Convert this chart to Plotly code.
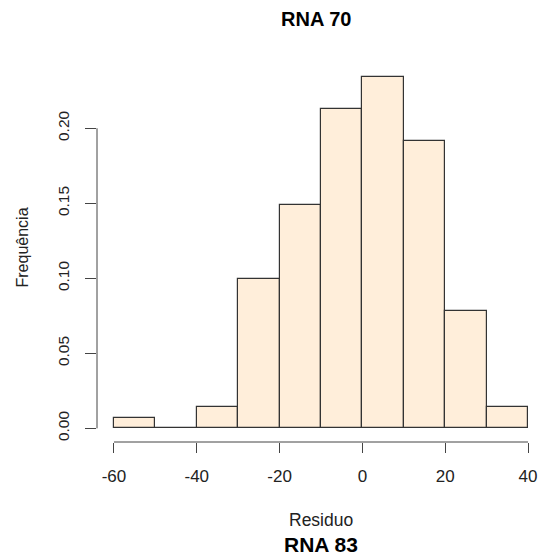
import plotly.graph_objects as go

# Data (relative frequency of residuals per 10-unit bin)
bin_edges = [-60, -50, -40, -30, -20, -10, 0, 10, 20, 30, 40]
proportions = [0.0071, 0.0, 0.0142, 0.0993, 0.1489, 0.2128, 0.2340, 0.1915, 0.0780, 0.0142]
x_ticks = [-60, -40, -20, 0, 20, 40]
x_tick_labels = ["-60", "-40", "-20", "0", "20", "40"]
y_ticks = [0.0, 0.05, 0.10, 0.15, 0.20]
y_tick_labels = ["0.00", "0.05", "0.10", "0.15", "0.20"]

centers = [(a + b) / 2 for a, b in zip(bin_edges[:-1], bin_edges[1:])]
widths = [b - a for a, b in zip(bin_edges[:-1], bin_edges[1:])]

FONT = "Liberation Sans, Arial, sans-serif"
AXC = "#444444"

fig = go.Figure()
fig.add_trace(go.Bar(
    x=centers, y=proportions, width=widths,
    marker=dict(color="#FFEEDA", line=dict(color="#333333", width=1.2)),
    hoverinfo="x+y",
))

fig.update_layout(
    width=542, height=559,
    margin=dict(l=97, r=0, t=63, b=117),
    plot_bgcolor="white", paper_bgcolor="white",
    showlegend=False,
    bargap=0,
    font=dict(family=FONT, color="#222222"),
    xaxis=dict(
        range=[-64.1, 43.38], showgrid=False, zeroline=False, showline=False,
        tickmode="array", tickvals=x_ticks, ticktext=x_tick_labels,
        ticks="outside", ticklen=10, tickcolor=AXC, tickwidth=1,
        tickfont=dict(size=17, family=FONT, color="#222222"),
        ticklabelstandoff=9, automargin=False,
    ),
    yaxis=dict(
        range=[-0.0091, 0.2435], showgrid=False, zeroline=False, showline=False,
        tickmode="array", tickvals=y_ticks, ticktext=y_tick_labels,
        ticks="outside", ticklen=11, tickcolor=AXC, tickwidth=1,
        tickangle=-90,
        tickfont=dict(size=15.5, family=FONT, color="#222222"),
        ticklabelstandoff=10, automargin=False,
    ),
    shapes=[
        dict(type="line", xref="x", yref="paper", x0=bin_edges[0], x1=bin_edges[-1], y0=0, y1=0,
             line=dict(color=AXC, width=1)),
        dict(type="line", xref="paper", yref="y", x0=0, x1=0, y0=y_ticks[0], y1=y_ticks[-1],
             line=dict(color=AXC, width=1)),
    ],
    annotations=[
        dict(text="<b>RNA 70</b>", xref="paper", yref="paper", x=(316 - 97) / 445, y=(442 - 19) / 379,
             xanchor="center", yanchor="middle", showarrow=False,
             font=dict(size=20, family=FONT, color="#000000")),
        dict(text="Residuo", xref="paper", yref="paper", x=(320.5 - 97) / 445, y=(442 - 520) / 379,
             xanchor="center", yanchor="middle", showarrow=False,
             font=dict(size=17.5, family=FONT, color="#222222")),
        dict(text="<b>RNA 83</b>", xref="paper", yref="paper", x=(321 - 97) / 445, y=(442 - 544) / 379,
             xanchor="center", yanchor="middle", showarrow=False,
             font=dict(size=21, family=FONT, color="#000000")),
        dict(text="Frequência", xref="paper", yref="paper", x=(22 - 97) / 445, y=(442 - 247.5) / 379,
             xanchor="center", yanchor="middle", showarrow=False, textangle=-90,
             font=dict(size=16, family=FONT, color="#222222")),
    ],
)

fig.write_html("out.html", config={"displayModeBar": False},
               post_script="document.body.style.margin='0px';document.body.style.overflow='hidden';")
